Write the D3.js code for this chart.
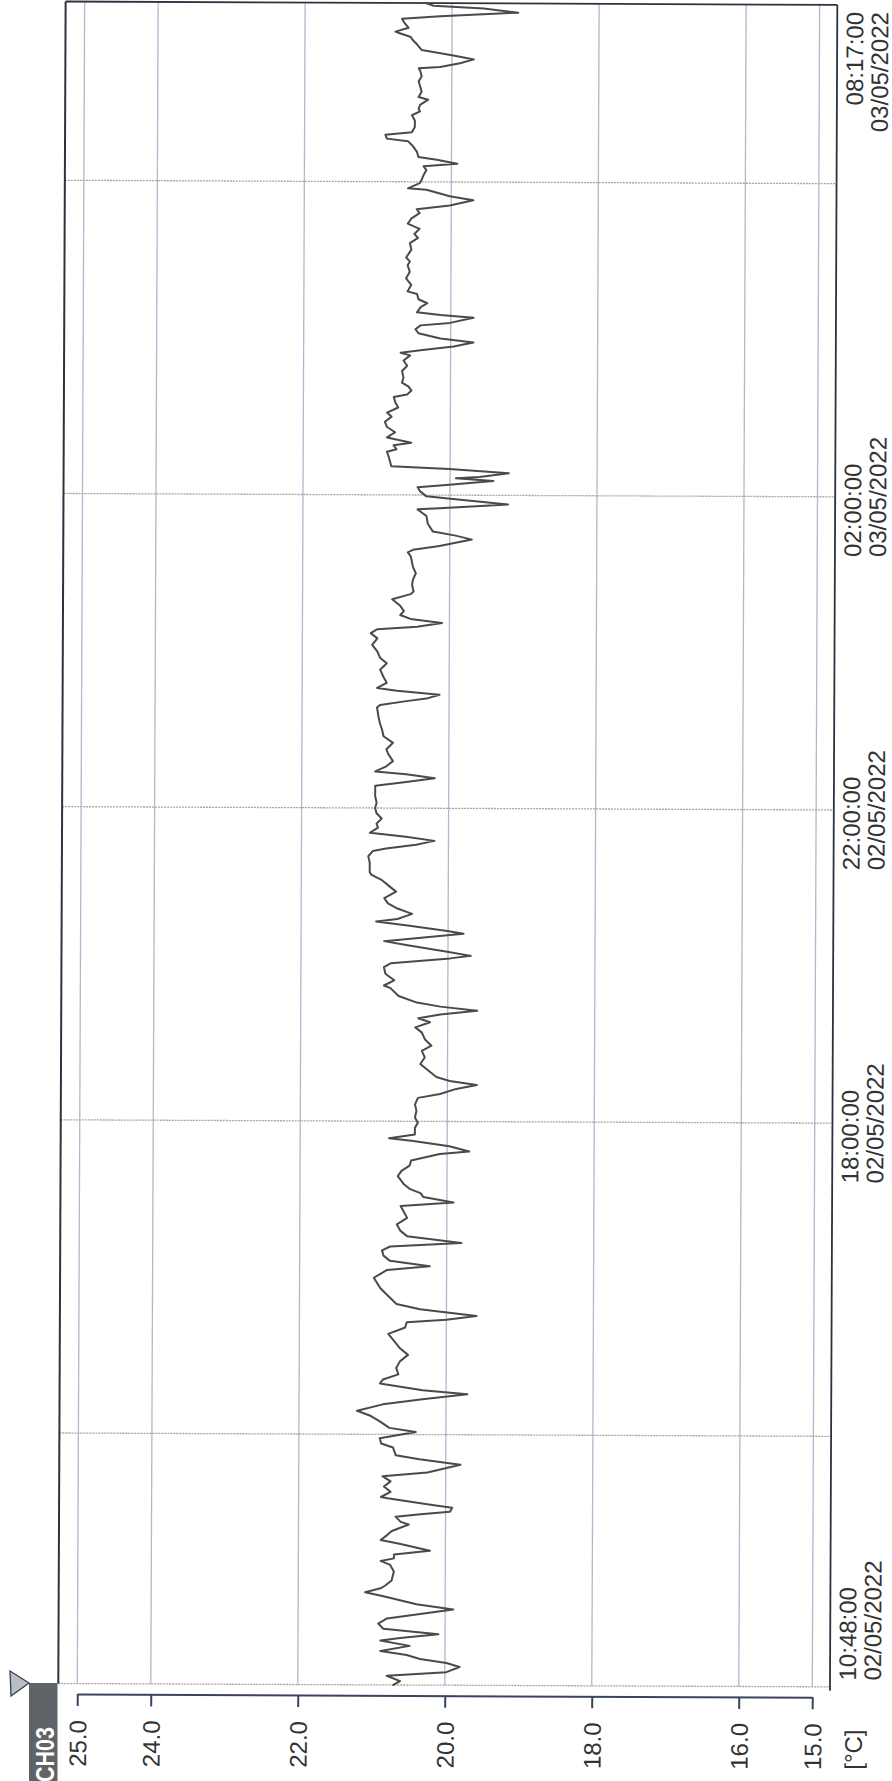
<!DOCTYPE html>
<html><head><meta charset="utf-8">
<script src="https://cdn.jsdelivr.net/npm/d3@7"></script>
<style>html,body{margin:0;padding:0;background:#fff;} svg{display:block;}</style>
</head><body>
<svg id="c" width="892" height="1781"></svg>
<script>
// ---- data (minutes since 02/05/2022 10:48:00, temperature in °C) ----
const minutes = [
0,3,7,10,14,17,20,23,26,30,34,36,39,43,47,51,58,62,68,71,74,76,80,87,92,95,97,100,103,108,111,115,118,123,125,129,131,133,136,138,143,144,148,152,156,160,163,
169,173,176,182,185,189,194,197,202,206,210,215,219,223,226,231,234,238,243,248,253,258,263,269,274,278,280,283,288,292,299,304,312,315,318,321,325,329,333,336,339,344,348,353,358,363,367,370,374,377,380,384,
390,394,398,402,407,409,413,417,419,422,427,431,435,440,445,450,453,457,460,463,466,470,476,481,486,490,495,500,504,508,511,514,517,520,523,528,534,536,540,545,550,553,557,559,562,567,570,573,576,578,582,585,587,591,595,599,603,608,612,617,621,
623,630,635,639,641,644,647,650,653,657,660,664,668,672,676,681,689,692,695,698,700,704,708,713,717,722,727,732,737,742,749,751,754,756,759,762,764,768,772,778,783,787,792,797,802,806,809,811,814,817,820,823,827,832,836,838,843,
847,852,857,865,868,870,873,878,881,884,890,896,898,901,902,905,909,911,915,918,920,923,925,926,929,932,934,938,942,945,947,950,952,956,960,964,968,972,975,979,983,987,989,992,995,998,1002,1007,1011,1015,1019,1021,1023,1026,1029,1032,1036,1039,1042,1044,1048,1050,1052,1056,1059,1062,1066,
1068,1073,1078,1083,1088,1091,1094,1100,1105,1109,1112,1116,1120,1124,1128,1131,1134,1138,1141,1146,1147,1151,1153,1157,1161,1164,1166,1169,1171,1175,1179,1183,1185,1188,1190,1194,1199,1203,1206,1208,1211,1215,1217,1221,1225,1229,1233,1237,1239,1240,1243,1246,1249,1253,1257,1261,1263,1266,1267,1270,1274,1277,1279,1282,1285,1287,1289
];
const temps = [
20.70,20.61,20.79,19.98,19.80,19.98,20.34,20.52,20.88,20.48,20.88,20.61,20.09,20.84,20.91,20.79,19.89,20.39,20.84,21.09,20.88,20.82,20.73,20.70,20.75,20.88,20.70,20.70,20.21,20.61,20.88,20.79,20.73,20.50,20.61,20.68,20.34,19.94,19.91,20.18,20.79,20.88,20.75,20.84,20.75,20.86,20.25,
19.80,20.36,20.68,20.72,20.88,20.90,20.41,20.77,20.90,21.02,21.21,20.86,20.32,19.71,20.32,20.90,20.86,20.65,20.68,20.63,20.52,20.63,20.70,20.79,20.56,20.54,20.00,19.59,20.36,20.68,20.81,20.90,20.99,20.90,20.81,20.23,20.77,20.86,20.88,20.77,19.80,20.54,20.63,20.68,20.54,20.59,20.63,19.91,20.32,20.36,20.50,20.59,
20.67,20.62,20.51,20.49,20.10,19.70,19.97,20.46,20.79,20.44,20.44,20.40,20.44,20.42,20.44,20.40,20.10,19.88,19.60,19.97,20.15,20.24,20.37,20.31,20.35,20.22,20.31,20.35,20.44,20.24,20.40,20.10,19.60,20.10,20.42,20.67,20.78,20.87,20.73,20.85,20.87,20.78,19.97,19.69,20.01,20.55,20.87,20.33,19.79,20.01,20.55,20.98,20.69,20.49,20.69,20.82,20.87,20.71,20.80,20.91,21.05,
21.07,21.07,21.09,21.03,20.85,20.44,20.19,20.58,21.07,20.96,20.98,20.91,20.98,21.00,20.98,21.00,21.00,20.58,20.19,20.58,21.00,20.85,20.76,20.82,20.85,20.76,20.89,20.91,20.94,20.96,20.98,20.94,20.58,20.31,20.13,20.71,20.98,20.85,20.89,20.94,20.85,20.94,20.98,21.05,20.98,21.07,20.98,20.44,20.10,20.53,20.67,20.62,20.67,20.78,20.53,20.49,20.51,
20.50,20.46,20.50,20.53,20.57,20.50,20.14,19.70,19.92,20.23,20.30,20.32,20.37,20.44,20.14,19.21,19.96,20.32,20.41,20.44,20.01,19.41,19.92,19.60,19.20,20.01,20.80,20.82,20.84,20.86,20.73,20.77,20.53,20.86,20.75,20.86,20.89,20.80,20.86,20.71,20.75,20.77,20.59,20.53,20.57,20.66,20.64,20.66,20.59,20.64,20.55,20.68,20.41,19.96,19.69,20.14,20.44,20.48,20.41,20.01,19.69,20.14,20.46,20.41,20.32,20.44,20.46,
20.59,20.54,20.61,20.56,20.59,20.56,20.61,20.54,20.56,20.45,20.50,20.43,20.59,20.54,20.43,20.47,20.02,19.70,20.02,20.34,20.59,20.43,20.41,20.38,20.34,20.38,19.92,20.20,20.45,20.47,20.52,20.59,20.88,20.90,20.54,20.50,20.50,20.54,20.43,20.45,20.43,20.32,20.45,20.41,20.43,20.45,20.41,20.43,20.45,20.16,19.89,19.70,19.98,20.41,20.47,20.54,20.56,20.72,20.77,20.59,20.65,20.68,20.16,19.10,19.57,20.25,20.36
];
const tempTicks = [25, 24, 22, 20, 18, 16, 15];
const tempDomain = [25, 15];
const startTime = new Date(2022, 4, 2, 10, 48, 0);
const endTime = new Date(2022, 4, 3, 8, 17, 0);
const gridTimes = [new Date(2022,4,2,14,0), new Date(2022,4,2,18,0), new Date(2022,4,2,22,0), new Date(2022,4,3,2,0), new Date(2022,4,3,6,0)];
const labelTimes = [startTime, new Date(2022,4,2,18,0), new Date(2022,4,2,22,0), new Date(2022,4,3,2,0), endTime];
const channelName = "CH03";
const unitLabel = "[°C]";

// ---- layout ----
const FONT = "'Liberation Sans', Arial, sans-serif";
const frame = {left: 58.3, right: 830, top: 1.5, bottom: 1683.5};
const svg = d3.select("#c");
svg.append("rect").attr("width", 892).attr("height", 1781).attr("fill", "#fff");
const g = svg.append("g").attr("transform", "rotate(0.25,58,1683)");

const x = d3.scaleLinear().domain(tempDomain).range([77.3, 812.3]);
const y = d3.scaleTime().domain([startTime, endTime]).range([frame.bottom, frame.top]);

const series = minutes.map((m, i) => ({t: new Date(startTime.getTime() + m * 60000), v: temps[i]}));

// vertical grid (temperature)
g.append("g").selectAll("line").data(tempTicks).join("line")
  .attr("x1", d => x(d)).attr("x2", d => x(d))
  .attr("y1", frame.top).attr("y2", frame.bottom)
  .attr("stroke", "#b6b6d0").attr("stroke-width", 1.3);

// horizontal grid (time)
g.append("g").selectAll("line").data([startTime].concat(gridTimes)).join("line")
  .attr("x1", frame.left).attr("x2", frame.right)
  .attr("y1", d => y(d)).attr("y2", d => y(d))
  .attr("stroke", "#a4a4a4").attr("stroke-width", 1.3).attr("stroke-dasharray", "2,1");

// frame
const fc = "#2c3240";
g.append("line").attr("x1", frame.left).attr("x2", frame.left).attr("y1", frame.top).attr("y2", frame.bottom).attr("stroke", fc).attr("stroke-width", 2);
g.append("line").attr("x1", frame.left).attr("x2", frame.right).attr("y1", frame.top).attr("y2", frame.top).attr("stroke", fc).attr("stroke-width", 1.8);
g.append("line").attr("x1", frame.right).attr("x2", frame.right).attr("y1", frame.top).attr("y2", frame.bottom + 4).attr("stroke", fc).attr("stroke-width", 1.8);

// data line
g.append("path").datum(series)
  .attr("fill", "none").attr("stroke", "#4a4a4a").attr("stroke-width", 2)
  .attr("stroke-linejoin", "round").attr("stroke-linecap", "round")
  .attr("d", d3.line().x(d => x(d.v)).y(d => y(d.t)));

// temperature axis
const ax = g.append("g").attr("transform", "translate(0,1694)")
  .call(d3.axisBottom(x).tickValues(tempTicks).tickSize(12).tickSizeOuter(0).tickFormat(d3.format(".1f")));
ax.select(".domain").attr("stroke", "#3a4460").attr("stroke-width", 2);
ax.selectAll(".tick line").attr("stroke", "#3a4460").attr("stroke-width", 2);
ax.selectAll(".tick text")
  .attr("transform", "rotate(-90)").attr("x", -26).attr("y", 0).attr("dy", "0.36em")
  .attr("text-anchor", "end").attr("font-size", 24).attr("font-family", FONT).attr("fill", "#333");

// unit label
g.append("text").attr("transform", "translate(862,1726) rotate(-90)")
  .attr("text-anchor", "end").attr("font-size", 24).attr("font-family", FONT).attr("fill", "#333")
  .text(unitLabel);

// time labels
const fmtT = d3.timeFormat("%H:%M:%S"), fmtD = d3.timeFormat("%d/%m/%Y");
labelTimes.forEach((d, i) => {
  const lines = [fmtT(d), fmtD(d)], xb = [856, 881];
  const texts = lines.map((s, k) => g.append("text")
    .attr("font-size", 24).attr("font-family", FONT).attr("fill", "#333").text(s));
  let pos, anchor;
  if (i === 0) { pos = y(d) - 6.5; anchor = "start"; }
  else if (i === labelTimes.length - 1) { pos = y(d) + 7; anchor = "end"; }
  else { pos = y(d) + texts[1].node().getComputedTextLength() / 2; anchor = "start"; }
  texts.forEach((t, k) => t.attr("text-anchor", anchor).attr("transform", `translate(${xb[k]},${pos}) rotate(-90)`));
});

// channel tag
svg.append("rect").attr("x", 29).attr("y", 1683).attr("width", 28.5).attr("height", 100).attr("fill", "#606368");
svg.append("text").attr("transform", "translate(54,1727) rotate(-90)")
  .attr("text-anchor", "end").attr("font-size", 25).attr("font-weight", "bold")
  .attr("font-family", FONT).attr("fill", "#fff").attr("textLength", 55).attr("lengthAdjust", "spacingAndGlyphs")
  .text(channelName);
svg.append("path").attr("d", "M10,1671 L29,1683 L11,1696 Z")
  .attr("fill", "#b9bdc8").attr("stroke", "#3a4050").attr("stroke-width", 1.3);
</script>
</body></html>
